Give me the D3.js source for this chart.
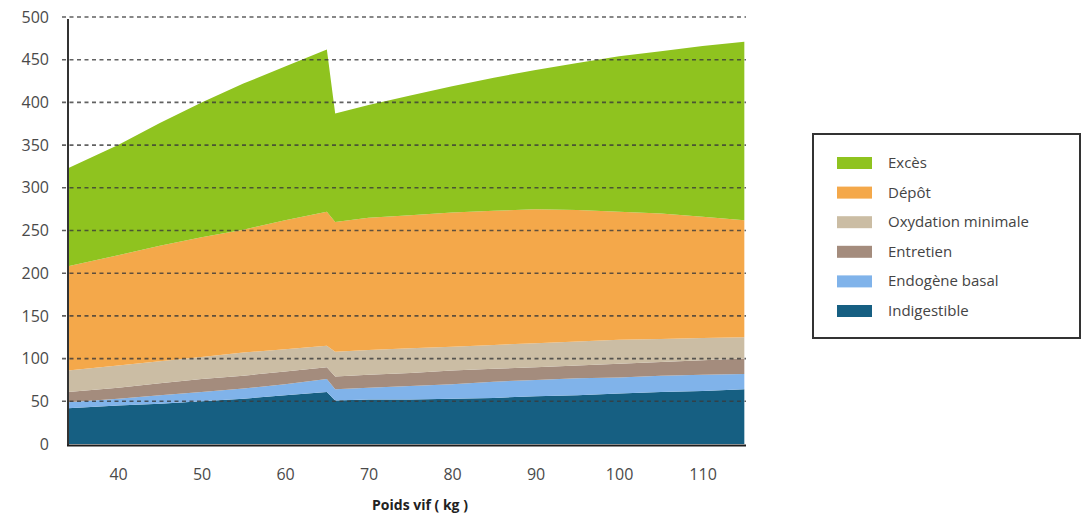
<!DOCTYPE html>
<html><head><meta charset="utf-8">
<script src="https://cdn.jsdelivr.net/npm/d3@7"></script>
<style>body{margin:0;background:#fff}svg{display:block}</style>
</head><body><svg id="c" width="1084" height="519"></svg>
<script>
const weights = [34, 40, 45, 50, 55, 60, 65, 66, 70, 75, 80, 85, 90, 95, 100, 105, 110, 115];
const indigestible = [42, 45, 47, 50, 53, 57, 61, 51, 52, 52, 53, 54, 56, 57, 59, 61, 62, 64];
const endogeneBasal = [7, 8, 10, 11, 12, 13, 15, 13, 14, 16, 17, 19, 19, 20, 19, 19, 19, 18];
const entretien = [12, 13, 14, 15, 15, 15, 14, 15, 15, 15, 16, 15, 15, 15, 16, 16, 17, 18];
const oxydation = [25, 26, 26, 26, 27, 26, 25, 29, 29, 29, 28, 28, 28, 28, 28, 27, 26, 25];
const depot = [122, 129, 135, 140, 144, 151, 157, 152, 155, 156, 157, 157, 157, 154, 150, 147, 142, 137];
const exces = [115, 129, 144, 158, 171, 180, 190, 127, 132, 140, 148, 156, 163, 172, 182, 190, 200, 209];
const seriesNames = ["Indigestible", "Endogène basal", "Entretien", "Oxydation minimale", "Dépôt", "Excès"];
const seriesColors = ["#165f82", "#80b3ea", "#a48c7d", "#cbbda4", "#f4a84a", "#8fc31f"];
const yTicks = [0, 50, 100, 150, 200, 250, 300, 350, 400, 450, 500];
const xTicks = [40, 50, 60, 70, 80, 90, 100, 110];
const xTitle = "Poids vif ( kg )";

const seriesData = [indigestible, endogeneBasal, entretien, oxydation, depot, exces];
const rows = weights.map((w, i) => {
  const r = {w};
  seriesNames.forEach((n, k) => r[n] = seriesData[k][i]);
  return r;
});

const svg = d3.select("#c");
const font = "'Open Sans', 'DejaVu Sans', sans-serif";
const x = d3.scaleLinear().domain([34, 115.2]).range([68, 746]);
const y = d3.scaleLinear().domain([0, 500]).range([444, 17]);

const stack = d3.stack().keys(seriesNames)(rows);
const area = d3.area().x(d => x(d.data.w)).y0(d => y(d[0])).y1(d => y(d[1]));
svg.append("g").selectAll("path").data(stack).join("path")
  .attr("d", area).attr("fill", (d, i) => seriesColors[i]);

// gridlines
svg.append("g").selectAll("line").data(yTicks.filter(t => t > 0)).join("line")
  .attr("x1", 62).attr("x2", 746).attr("y1", d => y(d)).attr("y2", d => y(d))
  .attr("stroke", "#3a3a3a").attr("stroke-width", 1.6).attr("stroke-dasharray", "4,3.5").attr("opacity", 0.8);

// axes
const yAxis = d3.axisLeft(y).tickValues(yTicks).tickSize(0).tickPadding(19);
const gy = svg.append("g").attr("transform", "translate(68,0)").call(yAxis);
gy.select(".domain").remove();
gy.selectAll("text").attr("font-family", font).attr("font-size", 16).attr("fill", "#4a4a4a");
svg.append("line").attr("x1", 68).attr("x2", 68).attr("y1", 19).attr("y2", 446)
  .attr("stroke", "#333").attr("stroke-width", 2);
svg.append("line").attr("x1", 67).attr("x2", 746).attr("y1", 445.5).attr("y2", 445.5)
  .attr("stroke", "#1d1d1d").attr("stroke-width", 2);

const xAxis = d3.axisBottom(x).tickValues(xTicks).tickSize(0).tickPadding(23);
const gx = svg.append("g").attr("transform", "translate(0,446)").call(xAxis);
gx.select(".domain").remove();
gx.selectAll("text").attr("font-family", font).attr("font-size", 16).attr("fill", "#4a4a4a");

svg.append("text").attr("x", 420).attr("y", 510).attr("text-anchor", "middle")
  .attr("font-family", font).attr("font-size", 14).attr("font-weight", "bold").attr("fill", "#222")
  .text(xTitle);

// legend
const lg = svg.append("g");
lg.append("rect").attr("x", 813).attr("y", 134).attr("width", 267).attr("height", 204)
  .attr("fill", "#fff").attr("stroke", "#333").attr("stroke-width", 2);
const legendOrder = seriesNames.map((n, i) => ({n, c: seriesColors[i]})).reverse();
const li = lg.selectAll("g.it").data(legendOrder).join("g").attr("class", "it")
  .attr("transform", (d, i) => `translate(0,${163 + i * 29.6})`);
li.append("rect").attr("x", 837).attr("y", -6).attr("width", 35).attr("height", 12).attr("fill", d => d.c);
li.append("text").attr("x", 888).attr("y", 5).attr("font-family", font).attr("font-size", 15)
  .attr("fill", "#444").text(d => d.n);
</script></body></html>
